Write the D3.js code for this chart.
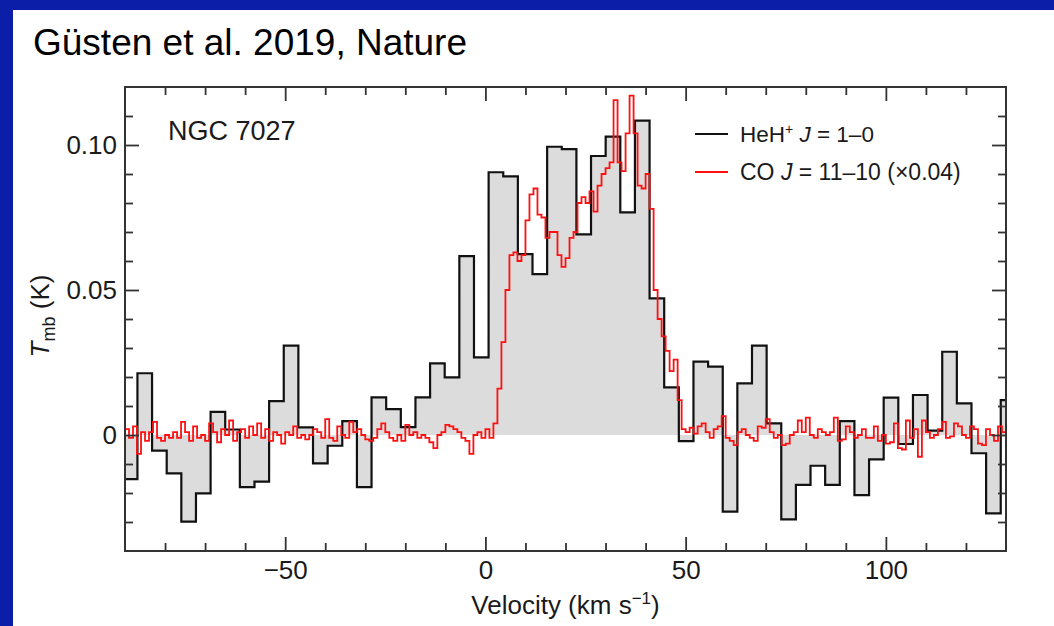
<!DOCTYPE html>
<html><head><meta charset="utf-8">
<script src="https://cdn.jsdelivr.net/npm/d3@7"></script>
<style>
html,body{margin:0;padding:0;background:#ffffff;}
svg{display:block}
text{font-family:"Liberation Sans",Arial,Helvetica,sans-serif;fill:#1a1a1a}
</style></head><body>
<svg id="c" width="1054" height="626"></svg>
<script>
// ---------------- DATA ----------------
// HeH+ J=1-0 spectrum: channel centres (km/s) and Tmb (K)
const heVelocity = [-88.72,-85.07,-81.41,-77.76,-74.11,-70.45,-66.80,-63.15,-59.49,-55.84,
  -52.18,-48.53,-44.88,-41.22,-37.57,-33.91,-30.26,-26.61,-22.95,-19.30,
  -15.64,-11.99,-8.34,-4.68,-1.03,2.63,6.28,9.93,13.59,17.24,
  20.90,24.55,28.20,31.86,35.51,39.17,42.82,46.47,50.13,53.78,
  57.44,61.09,64.74,68.40,72.05,75.71,79.36,83.01,86.67,90.32,
  93.98,97.63,101.28,104.94,108.59,112.25,115.90,119.55,123.21,126.86,130.52];
const heTmb = [-0.0152,0.0213,-0.0054,-0.0132,-0.0299,-0.0201,0.0080,0.0019,-0.0180,-0.0161,
  0.0117,0.0308,0.0026,-0.0098,-0.0037,0.0048,-0.0180,0.0130,0.0089,0.0027,
  0.0130,0.0247,0.0199,0.0617,0.0268,0.0906,0.0892,0.0624,0.0555,0.0994,
  0.0986,0.0692,0.0962,0.1029,0.0768,0.1084,0.0471,0.0164,-0.0021,0.0253,
  0.0236,-0.0264,0.0178,0.0308,0.0040,-0.0291,-0.0172,-0.0106,-0.0172,0.0048,
  -0.0207,-0.0084,0.0129,-0.0031,0.0138,0.0015,0.0287,0.0109,-0.0063,-0.0270,0.0120];

// CO J=11-10 (x0.04): 1 km/s channels from -90 to 130 km/s
const coStart = -90, coWidth = 1;
const coTmb = [
  0.002,-0.001,0.003,-0.0065,0.001,-0.002,0.001,0.0045,-0.001,-0.002,
  0.000,-0.001,0.001,-0.001,0.0045,0.001,-0.002,0.003,-0.001,0.000,
  -0.002,0.004,0.001,-0.0025,0.002,0.000,0.005,-0.002,0.001,0.002,
  -0.001,0.003,0.000,0.004,-0.001,0.002,-0.002,0.001,0.000,-0.003,
  0.001,0.000,0.003,-0.001,0.000,-0.0015,0.000,0.002,0.001,-0.001,
  0.0055,-0.001,-0.002,0.003,0.000,-0.001,0.0045,0.001,0.002,0.000,
  -0.0015,-0.002,-0.001,0.002,0.004,0.001,-0.001,-0.002,0.000,-0.002,
  0.0035,0.000,0.001,-0.001,0.000,-0.001,-0.0025,-0.0045,0.000,0.001,
  0.0035,0.003,0.002,0.001,-0.001,-0.002,-0.0065,0.000,0.001,-0.001,
  0.002,-0.001,0.004,0.016,0.032,0.050,0.062,0.063,0.060,0.062,
  0.074,0.083,0.085,0.076,0.075,0.068,0.070,0.070,0.062,0.058,
  0.061,0.068,0.070,0.080,0.082,0.080,0.084,0.077,0.086,0.090,
  0.092,0.094,0.1155,0.094,0.091,0.104,0.117,0.104,0.086,0.085,
  0.090,0.078,0.050,0.040,0.034,0.029,0.022,0.026,0.012,0.002,
  0.001,0.0025,0.0005,0.003,0.004,0.001,-0.001,0.002,0.003,0.0065,
  -0.001,-0.002,-0.0035,0.001,0.002,0.000,-0.001,-0.002,0.003,0.0025,
  0.0055,0.001,-0.001,0.000,-0.0035,-0.003,0.000,0.001,0.005,0.001,
  0.006,0.000,-0.001,0.002,0.001,0.000,0.001,0.006,-0.002,-0.0015,
  0.003,0.001,-0.001,0.000,0.002,-0.001,-0.001,0.003,-0.002,0.000,
  -0.003,-0.0025,0.004,-0.0045,-0.005,0.005,-0.001,0.002,-0.0075,0.005,
  0.001,-0.001,0.000,0.002,0.0045,-0.001,-0.0005,0.004,0.003,0.000,
  -0.001,0.003,0.002,-0.003,-0.0035,0.002,0.000,-0.002,0.003,0.001];

const xMajor = [-50, 0, 50, 100];
const xMinor = [-80,-70,-60,-40,-30,-20,-10,10,20,30,40,60,70,80,90,110,120];
const yMajor = [0, 0.05, 0.10];
const yMajorLabels = ["0", "0.05", "0.10"];
const yMinor = [-0.03,-0.02,-0.01,0.01,0.02,0.03,0.04,0.06,0.07,0.08,0.09,0.11];

const titleText = "Güsten et al. 2019, Nature";
const sourceName = "NGC 7027";

// ---------------- LAYOUT ----------------
const W = 1054, H = 626;
const L = 125, R = 1006, T = 87, B = 551;
const svg = d3.select("#c");

// slide background: blue frame with white panel
svg.append("rect").attr("x",0).attr("y",0).attr("width",W).attr("height",H).attr("fill","#0a1ea8");
svg.append("rect").attr("x",13).attr("y",10).attr("width",W-13).attr("height",H-10).attr("fill","#ffffff");

svg.append("text").attr("x",33).attr("y",55).style("font-size","37px").style("fill","#000")
  .text(titleText);

const x = d3.scaleLinear().domain([-90, 130]).range([L, R]);
const y = d3.scaleLinear().domain([-0.04, 0.12]).range([B, T]);

svg.append("clipPath").attr("id","plotclip").append("rect")
  .attr("x",L).attr("y",T).attr("width",R-L).attr("height",B-T);

const g = svg.append("g").attr("clip-path","url(#plotclip)");

// expand channels into step points
const heW = heVelocity[1] - heVelocity[0];
const hePts = [];
heVelocity.forEach((v,i) => { hePts.push([v - heW/2, heTmb[i]]); hePts.push([v + heW/2, heTmb[i]]); });
const coPts = [];
coTmb.forEach((t,i) => { const v0 = coStart + i*coWidth; coPts.push([v0, t]); coPts.push([v0 + coWidth, t]); });

const area = d3.area().x(d => x(d[0])).y0(y(0)).y1(d => y(d[1]));
const line = d3.line().x(d => x(d[0])).y(d => y(d[1]));

g.append("path").datum(hePts).attr("d", area).attr("fill","#dcdcdc");
g.append("path").datum(hePts).attr("d", line).attr("fill","none")
  .attr("stroke","#111").attr("stroke-width",2.2).attr("stroke-linejoin","miter");
g.append("path").datum(coPts).attr("d", line).attr("fill","none")
  .attr("stroke","#ff1010").attr("stroke-width",1.8);

// ---------------- AXES ----------------
function styleAxis(sel){
  sel.select(".domain").remove();
  sel.selectAll(".tick line").attr("stroke","#333").attr("stroke-width",1.8);
  sel.selectAll(".tick text").style("font-size","26px").style("fill","#1a1a1a")
    .attr("font-family",'"Liberation Sans",Arial,sans-serif');
}
const fmtY = v => yMajorLabels[yMajor.indexOf(v)];
const fmtX = v => (v < 0 ? "\u2212" + Math.abs(v) : String(v));

svg.append("g").attr("transform",`translate(0,${B})`)
  .call(d3.axisBottom(x).tickValues(xMajor).tickSize(-14).tickPadding(10).tickFormat(fmtX)).call(styleAxis);
svg.append("g").attr("transform",`translate(0,${B})`)
  .call(d3.axisBottom(x).tickValues(xMinor).tickSize(-8).tickFormat("")).call(styleAxis);
svg.append("g").attr("transform",`translate(0,${T})`)
  .call(d3.axisTop(x).tickValues(xMajor).tickSize(-14).tickFormat("")).call(styleAxis);
svg.append("g").attr("transform",`translate(0,${T})`)
  .call(d3.axisTop(x).tickValues(xMinor).tickSize(-8).tickFormat("")).call(styleAxis);

svg.append("g").attr("transform",`translate(${L},0)`)
  .call(d3.axisLeft(y).tickValues(yMajor).tickSize(-14).tickPadding(8).tickFormat(fmtY)).call(styleAxis);
svg.append("g").attr("transform",`translate(${L},0)`)
  .call(d3.axisLeft(y).tickValues(yMinor).tickSize(-8).tickFormat("")).call(styleAxis);
svg.append("g").attr("transform",`translate(${R},0)`)
  .call(d3.axisRight(y).tickValues(yMajor).tickSize(-14).tickFormat("")).call(styleAxis);
svg.append("g").attr("transform",`translate(${R},0)`)
  .call(d3.axisRight(y).tickValues(yMinor).tickSize(-8).tickFormat("")).call(styleAxis);

svg.append("rect").attr("x",L).attr("y",T).attr("width",R-L).attr("height",B-T)
  .attr("fill","none").attr("stroke","#333").attr("stroke-width",2);

// axis titles
const xt = svg.append("text").attr("x",(L+R)/2).attr("y",614).attr("text-anchor","middle").style("font-size","26px");
xt.append("tspan").text("Velocity (km s");
xt.append("tspan").attr("dy",-10).style("font-size","17px").text("\u22121");
xt.append("tspan").attr("dy",10).text(")");

const yt = svg.append("text").attr("transform","translate(49,316) rotate(-90)").attr("text-anchor","middle").style("font-size","26px");
yt.append("tspan").style("font-style","italic").text("T");
yt.append("tspan").attr("dy",6).style("font-size","18px").text("mb");
yt.append("tspan").attr("dy",-6).text(" (K)");

// source label
svg.append("text").attr("x",168).attr("y",140).style("font-size","27px").text(sourceName);

// legend
const legend = [
  {color:"#111", y:134},
  {color:"#ff1010", y:172}
];
svg.append("line").attr("x1",695).attr("x2",728).attr("y1",legend[0].y).attr("y2",legend[0].y).attr("stroke",legend[0].color).attr("stroke-width",2);
svg.append("line").attr("x1",695).attr("x2",728).attr("y1",legend[1].y).attr("y2",legend[1].y).attr("stroke",legend[1].color).attr("stroke-width",2);
const l1 = svg.append("text").attr("x",740).attr("y",142).style("font-size","22.5px");
l1.append("tspan").text("HeH");
l1.append("tspan").attr("dy",-8).style("font-size","14px").text("+");
l1.append("tspan").attr("dy",8).text(" ");
l1.append("tspan").style("font-style","italic").text("J");
l1.append("tspan").text(" = 1\u20130");
const l2 = svg.append("text").attr("x",740).attr("y",180).style("font-size","23px");
l2.append("tspan").text("CO ");
l2.append("tspan").style("font-style","italic").text("J");
l2.append("tspan").text(" = 11\u201310 (\u00d70.04)");
</script>
</body></html>
